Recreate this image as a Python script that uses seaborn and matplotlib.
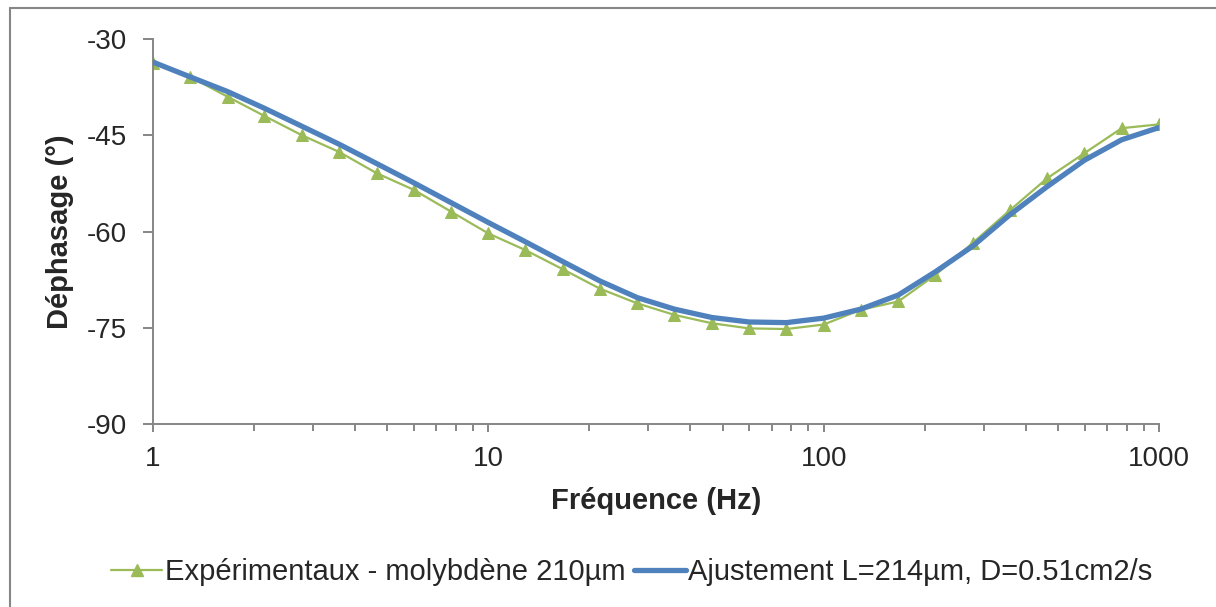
import matplotlib
matplotlib.use('Agg')
import matplotlib.pyplot as plt
from matplotlib.lines import Line2D
from matplotlib.ticker import FixedLocator, NullFormatter
import seaborn as sns
import pandas as pd

# frequencies (Hz), 9 points per decade
freq = [1, 1.29, 1.67, 2.15, 2.78, 3.59, 4.64, 5.99, 7.74,
        10, 12.9, 16.7, 21.5, 27.8, 35.9, 46.4, 59.9, 77.4,
        100, 129, 167, 215, 278, 359, 464, 599, 774, 1000]

# measured phase shift (deg)
phase_exp = [-33.8, -35.9, -39.0, -42.0, -45.0, -47.6, -50.9, -53.5, -56.9,
             -60.3, -62.9, -65.9, -68.9, -71.2, -73.0, -74.3, -75.1, -75.2,
             -74.5, -72.2, -70.9, -66.8, -61.8, -56.7, -51.7, -47.8, -43.9, -43.3]

# fitted model (deg)
phase_fit = [-33.6, -35.9, -38.2, -40.8, -43.6, -46.4, -49.4, -52.4, -55.5,
             -58.6, -61.6, -64.7, -67.7, -70.3, -72.1, -73.4, -74.1, -74.2,
             -73.5, -72.1, -69.9, -66.3, -62.3, -57.4, -53.0, -48.9, -45.7, -43.8]

label_exp = "Expérimentaux - molybdène 210µm"
label_fit = "Ajustement L=214µm, D=0.51cm2/s"

y_ticks = [-90, -75, -60, -45, -30]
x_ticks = [1, 10, 100, 1000]

green = "#9BBB59"
blue = "#4F81BD"
axis_gray = "#868686"

sns.set_style("white")
plt.rcParams['font.family'] = ['Liberation Sans', 'DejaVu Sans']
plt.rcParams['axes.unicode_minus'] = False

df = pd.DataFrame({"freq": freq, "exp": phase_exp, "fit": phase_fit})

fig = plt.figure(figsize=(12.16, 6.07), dpi=100)
ax = fig.add_axes([153 / 1216, 1 - 424 / 607, 1006 / 1216, 385 / 607])

sns.lineplot(data=df, x="freq", y="exp", ax=ax, color=green, lw=1.6,
             marker="^", markersize=8.5, markeredgecolor=green,
             estimator=None, sort=False, zorder=2)
sns.lineplot(data=df, x="freq", y="fit", ax=ax, color=blue, lw=3.8,
             estimator=None, sort=False, zorder=3)

ax.set_xscale("log")
ax.set_xlim(1, 1000)
ax.set_ylim(-90, -30)
ax.set_yticks(y_ticks)
ax.set_yticklabels([str(v) for v in y_ticks])
ax.xaxis.set_major_locator(FixedLocator(x_ticks))
ax.set_xticklabels([str(v) for v in x_ticks])
minors = [m * d for d in [1, 10, 100] for m in range(2, 10)]
ax.xaxis.set_minor_locator(FixedLocator(minors))
ax.xaxis.set_minor_formatter(NullFormatter())

for side in ["top", "right"]:
    ax.spines[side].set_visible(False)
for side in ["left", "bottom"]:
    ax.spines[side].set_color(axis_gray)
    ax.spines[side].set_linewidth(1.4)

ax.tick_params(axis="y", which="major", direction="out", length=7, width=1.4,
               color=axis_gray, labelsize=20, pad=12, left=True)
ax.tick_params(axis="x", which="major", direction="out", length=6, width=1.4,
               color=axis_gray, labelsize=20, pad=10, bottom=True)
ax.tick_params(axis="x", which="minor", direction="out", length=5, width=1.4,
               color=axis_gray, bottom=True)

ax.set_xlabel("Fréquence (Hz)", fontsize=21, fontweight="bold")
ax.set_ylabel("Déphasage (°)", fontsize=21, fontweight="bold")
ax.xaxis.set_label_coords(0.5, (424 - 501) / 385)
ax.xaxis.label.set_va("center")
ax.yaxis.set_label_coords((60 - 153) / 1006, 0.5)
ax.yaxis.label.set_va("center")

handles = [
    Line2D([], [], color=green, lw=1.6, marker="^", markersize=8.5, markeredgecolor=green),
    Line2D([], [], color=blue, lw=3.8),
]
fig.legend(handles, [label_exp, label_fit], loc="center", ncol=2,
           bbox_to_anchor=(632 / 1216, 1 - 572 / 607), frameon=False,
           fontsize=21, handlelength=1.75, handletextpad=0.1, columnspacing=0.3)

# outer chart border (left and top edges visible)
fig.add_artist(Line2D([10 / 1216, 10 / 1216], [0, 1 - 8 / 607],
                      transform=fig.transFigure, color=axis_gray, lw=1.5))
fig.add_artist(Line2D([10 / 1216, 1], [1 - 8 / 607, 1 - 8 / 607],
                      transform=fig.transFigure, color=axis_gray, lw=1.5))

fig.savefig("out.png", dpi=100)
